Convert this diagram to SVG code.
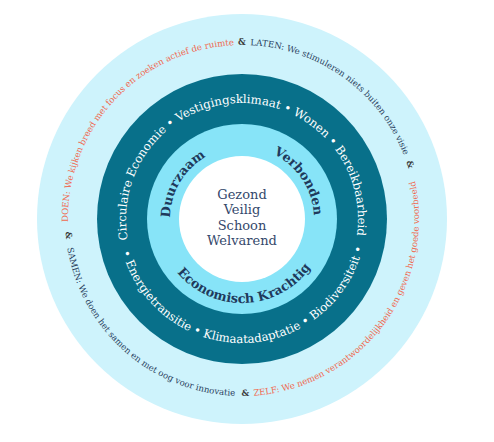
<svg xmlns="http://www.w3.org/2000/svg" width="494" height="442" viewBox="0 0 494 442">
<defs>
<path id="cw116" d="M242 335 A116 116 0 1 1 242 103 A116 116 0 1 1 242 335"/>
<path id="ccw124" d="M242 95 A124 124 0 1 0 242 343 A124 124 0 1 0 242 95"/>
<path id="cw72" d="M242 291 A72 72 0 1 1 242 147 A72 72 0 1 1 242 291"/>
<path id="ccw84" d="M242 135 A84 84 0 1 0 242 303 A84 84 0 1 0 242 135"/>
<path id="cw174" d="M242 393 A174 174 0 1 1 242 45 A174 174 0 1 1 242 393"/>
<path id="ccw177" d="M242 42 A177 177 0 1 0 242 396 A177 177 0 1 0 242 42"/>
</defs>
<style>
text{font-family:"DejaVu Serif","Liberation Serif",serif;}
.ring{font-size:11.7px;fill:#ffffff;}
.mid{font-size:12.8px;font-weight:bold;fill:#1f3a5c;}
.core{font-size:13px;fill:#34486b;text-anchor:middle;}
.outer{font-size:8.6px;}
.or{fill:#f0694f;}
.nv{fill:#2a3f60;}
.amp{font-weight:bold;fill:#3a3a3a;}
</style>
<rect width="494" height="442" fill="#ffffff"/>
<g id="outer-ring">
<circle cx="242" cy="219" r="205" fill="#cef3fc"/>
<text class="outer"><textPath href="#cw174" startOffset="37%" text-anchor="middle" class="or">DOEN: We kijken breed met focus en zoeken actief de ruimte</textPath><textPath href="#cw174" startOffset="50%" text-anchor="middle" class="amp">&amp;</textPath><textPath href="#cw174" startOffset="59.9%" text-anchor="middle" class="nv">LATEN: We stimuleren niets buiten onze visie</textPath><textPath href="#cw174" startOffset="70%" text-anchor="middle" class="amp">&amp;</textPath></text>
<text class="outer"><textPath href="#ccw177" startOffset="26.5%" text-anchor="middle" class="amp">&amp;</textPath><textPath href="#ccw177" startOffset="38.5%" text-anchor="middle" class="nv">SAMEN: We doen het samen en met oog voor innovatie</textPath><textPath href="#ccw177" startOffset="50.3%" text-anchor="middle" class="amp">&amp;</textPath><textPath href="#ccw177" startOffset="64.75%" text-anchor="middle" class="or">ZELF: We nemen verantwoordelijkheid en geven het goede voorbeeld</textPath></text>
</g>
<g id="theme-ring">
<circle cx="242" cy="219" r="145" fill="#08708a"/>
<text class="ring"><textPath href="#cw116" startOffset="49.7%" text-anchor="middle">Circulaire Economie • Vestigingsklimaat • Wonen • Bereikbaarheid</textPath><textPath href="#ccw124" startOffset="50.3%" text-anchor="middle">• Energietransitie • Klimaatadaptatie • Biodiversiteit •</textPath></text>
</g>
<g id="value-ring">
<circle cx="242" cy="219" r="95" fill="#87e4f8"/>
<text class="mid"><textPath href="#cw72" startOffset="33.5%" text-anchor="middle">Duurzaam</textPath><textPath href="#cw72" startOffset="65.7%" text-anchor="middle">Verbonden</textPath><textPath href="#ccw84" startOffset="50.6%" text-anchor="middle">Economisch Krachtig</textPath></text>
</g>
<g id="core">
<circle cx="242" cy="219" r="63" fill="#ffffff"/>
<text class="core" x="242" y="199">Gezond<tspan x="242" dy="15">Veilig</tspan><tspan x="242" dy="15.5">Schoon</tspan><tspan x="242" dy="15">Welvarend</tspan></text>
</g>
</svg>
